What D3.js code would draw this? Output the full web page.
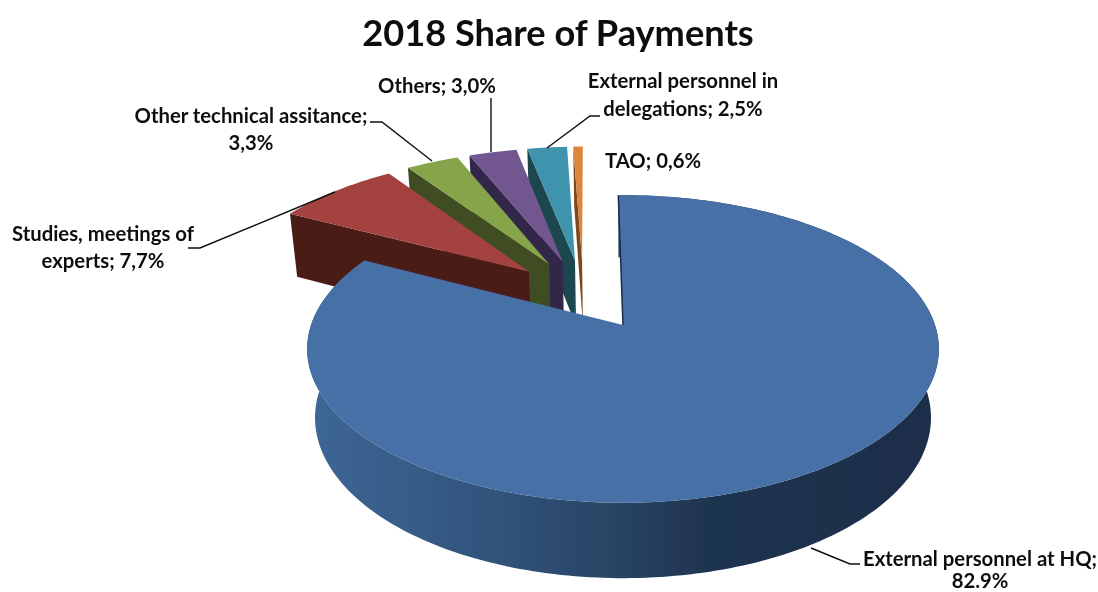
<!DOCTYPE html>
<html>
<head>
<meta charset="utf-8">
<title>2018 Share of Payments</title>
<script src="https://cdn.jsdelivr.net/npm/d3@7"></script>
<style>
  html, body { margin: 0; padding: 0; background: #fff; }
  svg { display: block; }
  text { font-family: Lato, "Open Sans", sans-serif; font-weight: 700; fill: #111; }
</style>
</head>
<body>
<div id="chart"></div>
<script>
const categories = ['External personnel at HQ', 'Studies, meetings of experts', 'Other technical assitance', 'Others', 'External personnel in delegations', 'TAO'];
const shares = [82.9, 7.7, 3.3, 3.0, 2.5, 0.6];
const topColors = ['#4670a6', '#a44340', '#86a44a', '#72568f', '#3f93ad', '#dd853e'];
const wallColors = ['#1b2e4a', '#4a1a18', '#3f4e22', '#33264a', '#1b4650', '#7d4a1f'];
const labelLines = [
  ['External personnel at HQ;', '82.9%'],
  ['Studies, meetings of', 'experts; 7,7%'],
  ['Other technical assitance;', '3,3%'],
  ['Others; 3,0%'],
  ['External personnel in', 'delegations; 2,5%'],
  ['TAO; 0,6%']
];

(function() {
  const width = 1098, height = 592;

  const svg = d3.select('#chart').append('svg')
    .attr('width', width)
    .attr('height', height);

  // The reference is a soft upscaled image, a light blur brings the edges closer
  const defs = svg.append('defs');
  defs.append('filter')
    .attr('id', 'soft')
    .attr('filterUnits', 'userSpaceOnUse')
    .attr('x', 0).attr('y', 0)
    .attr('width', width).attr('height', height)
    .append('feGaussianBlur')
    .attr('stdDeviation', 0.5);

  const root = svg.append('g').attr('filter', 'url(#soft)');

  // Camera for the tilted pie: the unit disc of the big slice is mapped with a
  // small perspective term, so the near half comes out taller than the far half
  const cam = {cx: 623, cy: 325, rx: 312, ry: 150, persp: 0.156, drop: 70, shrink: 0.025};
  const explode = 0.25;
  const rot = -1 * Math.PI / 180;

  function project(u, v, z) {
    const w = 1 - cam.persp * v + cam.shrink * z;
    return [cam.cx + cam.rx * u / w, cam.cy + (cam.ry * v + cam.drop * z) / w];
  }

  const slices = d3.pie().sort(null).startAngle(rot).endAngle(rot + 2 * Math.PI)(shares);
  const midAngle = d => (d.startAngle + d.endAngle) / 2;

  // big slice apex sits on the camera origin, the shared pie centre is behind it
  const originU = -explode * Math.sin(midAngle(slices[0]));
  const originV = explode * Math.cos(midAngle(slices[0]));

  function apexOf(d) {
    return [originU + explode * Math.sin(midAngle(d)), originV - explode * Math.cos(midAngle(d))];
  }

  function rimPoint(d, a) {
    const apex = apexOf(d);
    return [apex[0] + Math.sin(a), apex[1] - Math.cos(a)];
  }

  function rim(d, z) {
    const n = Math.max(4, Math.ceil((d.endAngle - d.startAngle) / 0.02));
    return d3.range(n + 1).map(i => {
      const p = rimPoint(d, d.startAngle + (d.endAngle - d.startAngle) * i / n);
      return project(p[0], p[1], z);
    });
  }

  const line = d3.line();

  const grad = defs.append('linearGradient')
    .attr('id', 'mainWall')
    .attr('gradientUnits', 'userSpaceOnUse')
    .attr('x1', 310).attr('x2', 940).attr('y1', 0).attr('y2', 0);
  [[0, '#3e6796'], [0.25, '#33567f'], [0.45, '#2a4869'], [0.63, '#1f3450'], [1, '#1a2d48']].forEach(s => {
    grad.append('stop').attr('offset', s[0]).attr('stop-color', s[1]);
  });

  const pieGroup = root.append('g').attr('class', 'pie');

  // painter's order: far slices first, the big one last
  const order = d3.range(slices.length).reverse();

  order.forEach(i => {
    const d = slices[i];
    const g = pieGroup.append('g').attr('class', 'slice');
    const apex = apexOf(d);
    const start = rimPoint(d, d.startAngle);

    if (i === 0) {
      // outer wall, only the big slice shows it
      const top = rim(d, 0), bottom = rim(d, 1).reverse();
      g.append('path')
        .attr('d', line(top.concat(bottom)) + 'Z')
        .attr('fill', 'url(#mainWall)');
    } else {
      const wall = [
        project(apex[0], apex[1], 0),
        project(start[0], start[1], 0),
        project(start[0], start[1], 1),
        project(apex[0], apex[1], 1)
      ];
      g.append('path')
        .attr('d', line(wall) + 'Z')
        .attr('fill', wallColors[i]);
    }

    const face = [project(apex[0], apex[1], 0)].concat(rim(d, 0));
    g.append('path')
      .attr('d', line(face) + 'Z')
      .attr('fill', topColors[i]);

    if (i === 0) {
      // the start wall is seen almost edge on
      g.append('path')
        .attr('d', line([project(apex[0], apex[1], 0), project(start[0], start[1], 0)]))
        .attr('fill', 'none')
        .attr('stroke', wallColors[0])
        .attr('stroke-width', 1.5);
    }
  });

  // Leader lines
  const leaders = [
    [[811, 548], [850, 564], [860, 564]],
    [[335, 192], [200, 248], [188, 248]],
    [[432, 161], [382, 122], [370, 122]],
    [[491, 152], [491, 98]],
    [[547, 148], [590, 116], [600, 116]]
  ];
  root.append('g').selectAll('path')
    .data(leaders)
    .enter()
    .append('path')
    .attr('d', d => line(d))
    .attr('fill', 'none')
    .attr('stroke', '#111')
    .attr('stroke-width', 1.4);

  // Labels
  const labelPos = [
    {x: 980, y: 566, dy: 22},
    {x: 103, y: 241, dy: 27},
    {x: 251, y: 123, dy: 27},
    {x: 437, y: 93, dy: 27},
    {x: 683, y: 88, dy: 28},
    {x: 653, y: 168, dy: 27}
  ];
  labelLines.forEach((lines, i) => {
    const t = root.append('text')
      .attr('class', 'label')
      .attr('text-anchor', 'middle')
      .attr('font-size', 20.3);
    lines.forEach((s, j) => {
      t.append('tspan')
        .attr('x', labelPos[i].x)
        .attr('y', labelPos[i].y + j * labelPos[i].dy)
        .text(s);
    });
  });

  root.append('text')
    .attr('x', 558)
    .attr('y', 46)
    .attr('text-anchor', 'middle')
    .attr('font-size', 36.2)
    .text('2018 Share of Payments');
})();
</script>
</body>
</html>
